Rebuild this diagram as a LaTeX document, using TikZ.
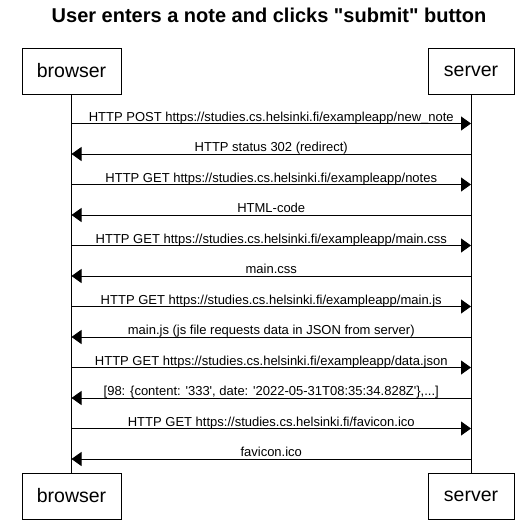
\documentclass[tikz,border=0pt]{standalone}
\usepackage{fontspec}
\setmainfont{Liberation Sans}[Ligatures=TeXOff]
\usetikzlibrary{arrows.meta,calc}
\begin{document}
\begin{tikzpicture}[x=1pt,y=-1pt,
  actor/.style={draw,line width=0.9pt,minimum width=99pt,minimum height=46pt,inner sep=0pt,font=\fontsize{19.5}{22}\selectfont},
  msg/.style={line width=0.9pt,-{Triangle[length=10pt,width=14pt]}},
  lbl/.style={inner sep=0pt,anchor=base,font=\fontsize{13}{15}\selectfont},
  life/.style={line width=0.9pt}]
\useasboundingbox (0,0) rectangle (523,530);
\fill[white] (0,0) rectangle (523,530);
\node[font=\bfseries\fontsize{20}{24}\selectfont] (title) at (269,15) {User enters a note and clicks "submit" button};
\node[actor] (bt) at (71.5,71) {browser};
\node[actor,minimum width=86pt] (st) at (471,71) {server};
\node[actor] (bb) at (71.5,496) {browser};
\node[actor,minimum width=86pt] (sb) at (471,496) {server};
\draw[life] (bt.south) -- (bb.north);
\draw[life] (st.south) -- (sb.north);
\foreach \i/\dir/\txt in {
  0/1/{HTTP POST https://studies.cs.helsinki.fi/exampleapp/new\_note},
  1/0/{HTTP status 302 (redirect)},
  2/1/{HTTP GET https://studies.cs.helsinki.fi/exampleapp/notes},
  3/0/{HTML-code},
  4/1/{HTTP GET https://studies.cs.helsinki.fi/exampleapp/main.css},
  5/0/{main.css},
  6/1/{HTTP GET https://studies.cs.helsinki.fi/exampleapp/main.js},
  7/0/{main.js (js file requests data in JSON from server)},
  8/1/{HTTP GET https://studies.cs.helsinki.fi/exampleapp/data.json},
  9/0/{[98: \{content: '333', date: '2022-05-31T08:35:34.828Z'\},...]},
  10/1/{HTTP GET https://studies.cs.helsinki.fi/favicon.ico},
  11/0/{favicon.ico}}{
  \pgfmathsetmacro{\yy}{123.5+30.5*\i}
  \coordinate (b\i) at (bt.south |- 0,\yy);
  \coordinate (s\i) at (st.south |- 0,\yy);
  \ifnum\dir=1
    \draw[msg] (b\i) -- (s\i);
  \else
    \draw[msg] (s\i) -- (b\i);
  \fi
  \node[lbl] (l\i) at ($(b\i)!0.5!(s\i)+(0,-2.5)$) {\txt};
}
\end{tikzpicture}
\end{document}
